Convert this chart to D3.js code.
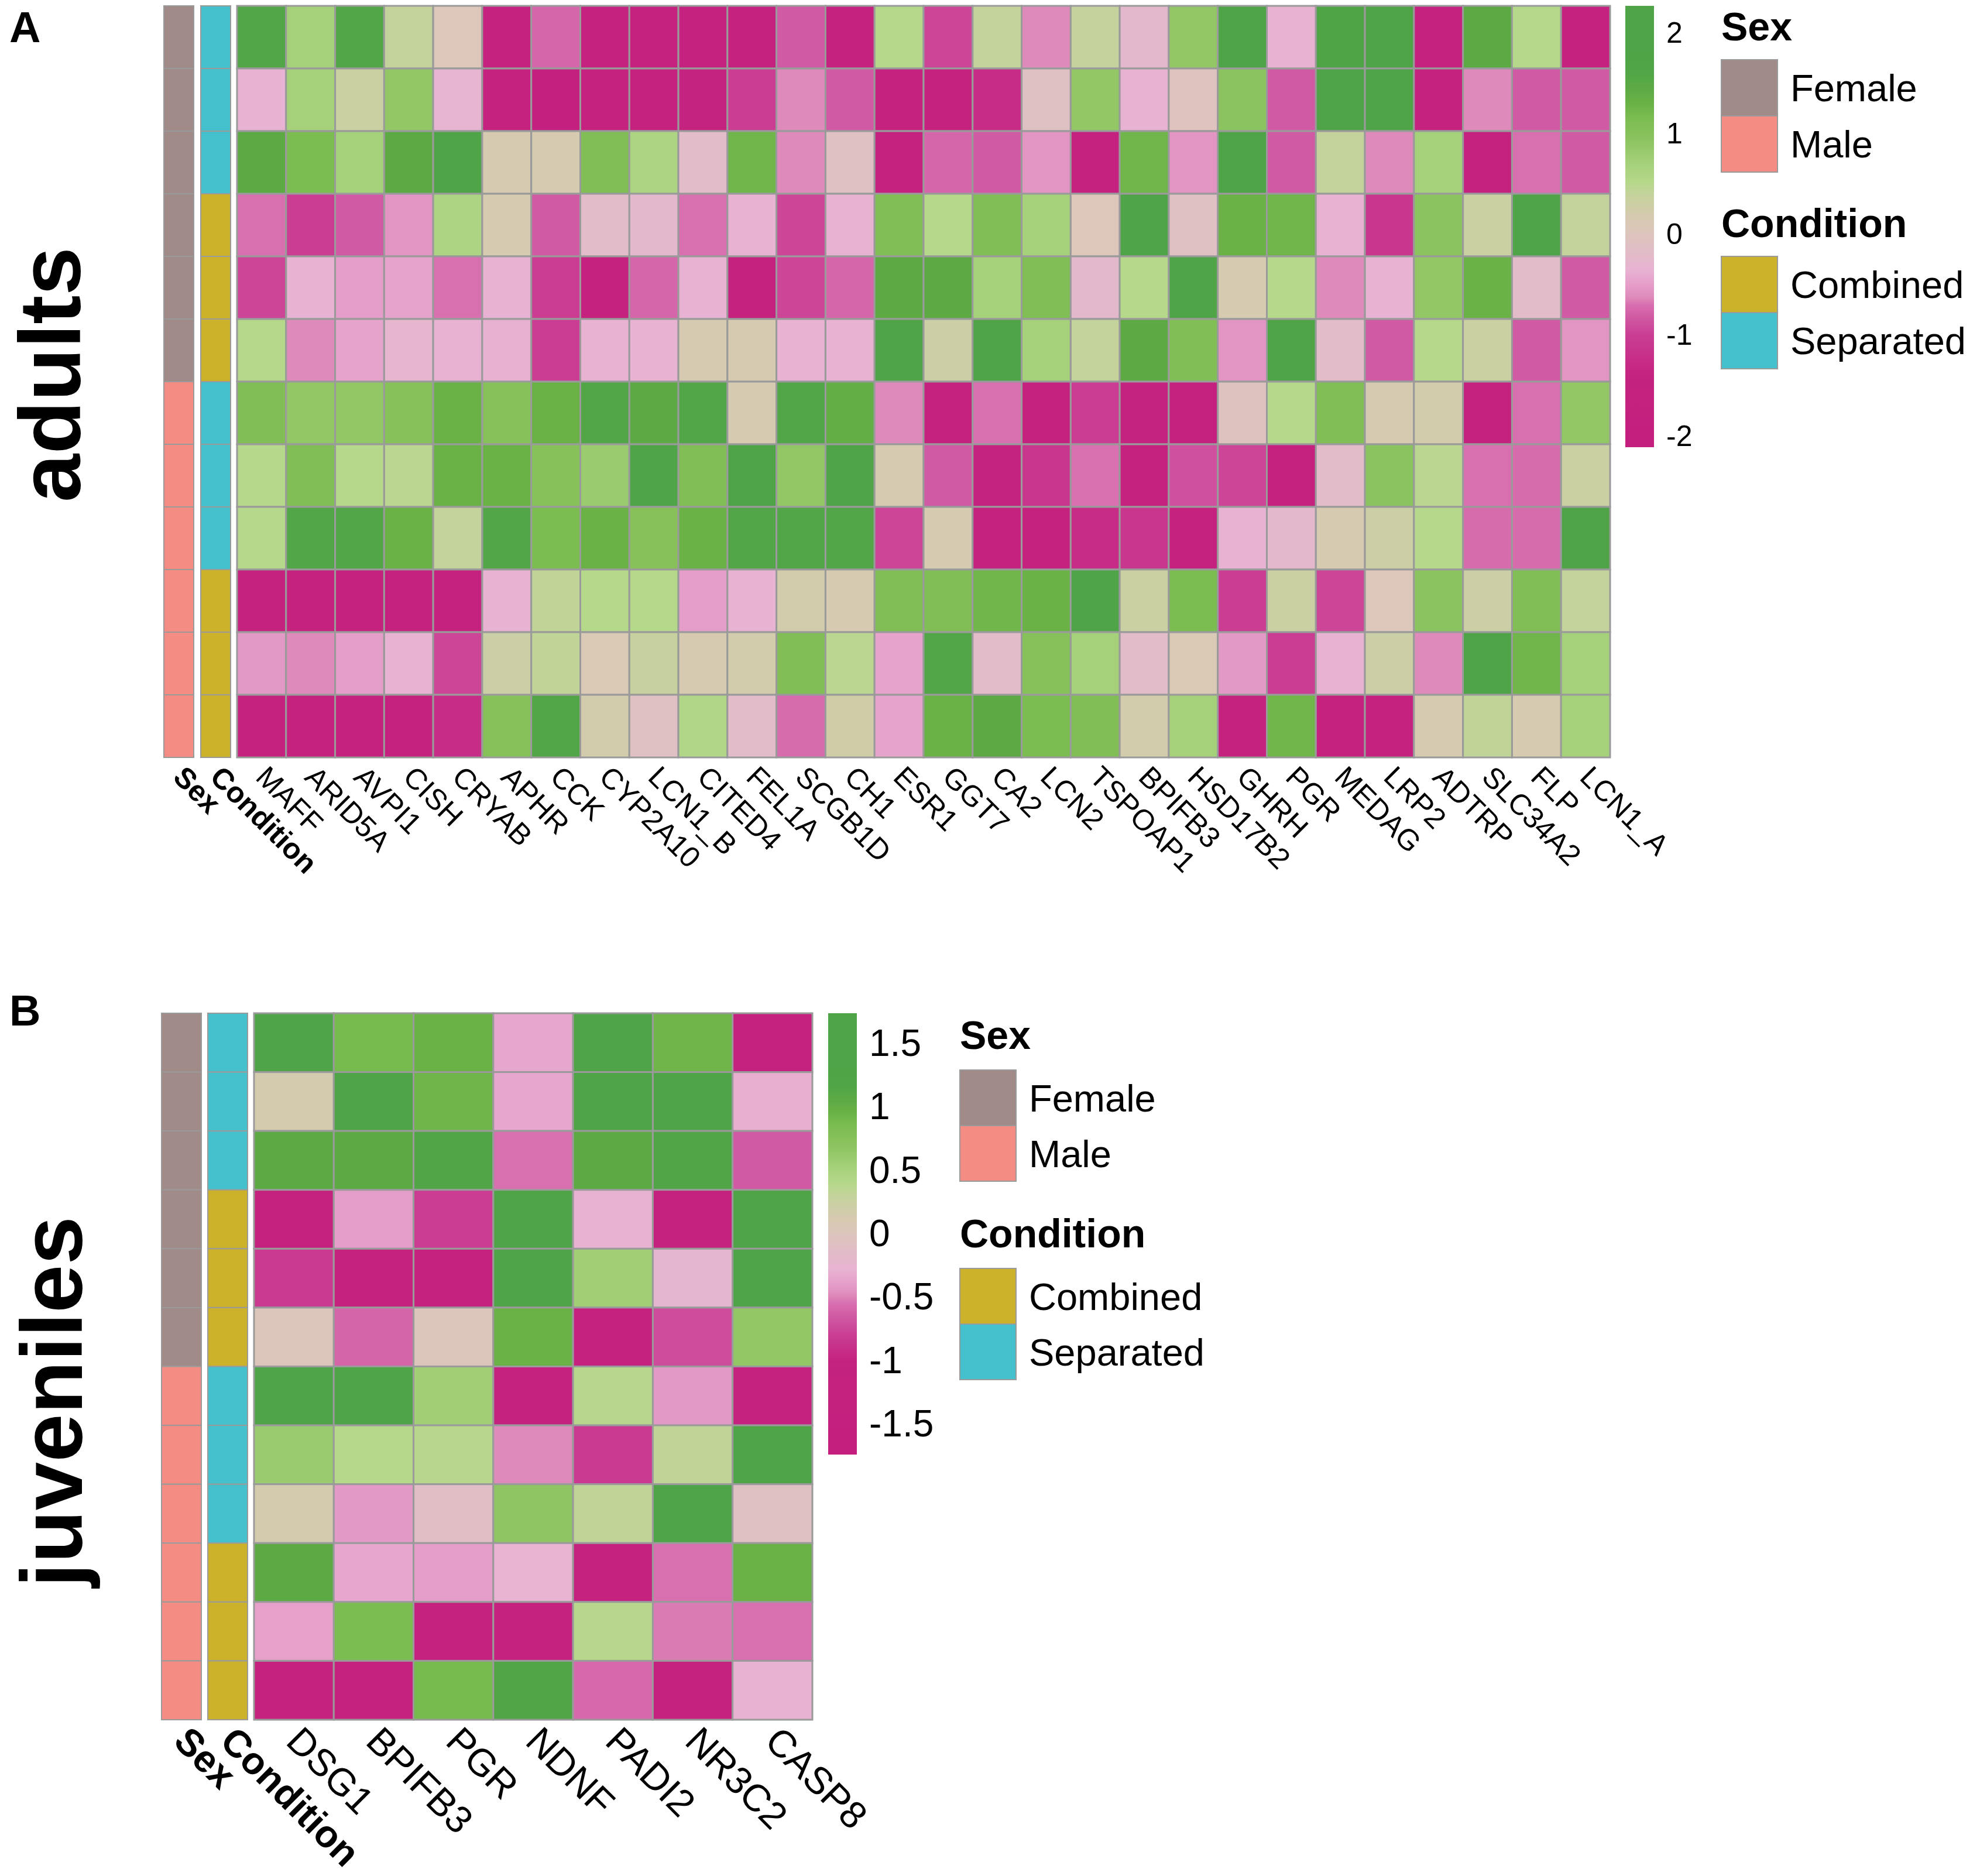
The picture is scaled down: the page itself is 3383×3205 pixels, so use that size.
<!DOCTYPE html>
<html>
<head>
<meta charset="utf-8">
<script src="https://cdn.jsdelivr.net/npm/d3@7"></script>
<style>
  body { margin: 0; background: #fff; }
  text { font-family: "Liberation Sans", Arial, sans-serif; fill: #000; }
</style>
</head>
<body>
<div id="chart"></div>
<script>
// genes (columns)
const genesA = ["MAFF", "ARID5A", "AVPI1", "CISH", "CRYAB", "APHR", "CCK", "CYP2A10", "LCN1_B", "CITED4",
  "FEL1A", "SCGB1D", "CH1", "ESR1", "GGT7", "CA2", "LCN2", "TSPOAP1", "BPIFB3", "HSD17B2",
  "GHRH", "PGR", "MEDAG", "LRP2", "ADTRP", "SLC34A2", "FLP", "LCN1_A"];
const genesB = ["DSG1", "BPIFB3", "PGR", "NDNF", "PADI2", "NR3C2", "CASP8"];

// row annotations (same sample order in both panels)
const sexLevels = ["Female", "Male"];
const conditionLevels = ["Combined", "Separated"];
const sexRows = ["Female", "Female", "Female", "Female", "Female", "Female",
  "Male", "Male", "Male", "Male", "Male", "Male"];
const conditionRows = ["Separated", "Separated", "Separated", "Combined", "Combined", "Combined",
  "Separated", "Separated", "Separated", "Combined", "Combined", "Combined"];

// scaled expression, adults (rows = samples, cols = genesA)
const valuesA = [
  [1.6, 0.7, 1.6, 0.4, 0.05, -1.7, -0.75, -1.7, -1.65, -1.7, -1.75, -0.82, -1.7, 0.52, -0.95, 0.4, -0.62, 0.38, -0.25, 0.88, 1.8, -0.35, 1.75, 1.8, -1.7, 1.45, 0.52, -1.7],
  [-0.35, 0.7, 0.33, 0.88, -0.33, -1.7, -1.8, -1.7, -1.75, -1.4, -1.0, -0.62, -0.82, -1.7, -1.7, -1.25, -0.1, 0.88, -0.35, -0.03, 0.95, -0.82, 1.8, 1.8, -1.7, -0.62, -0.82, -0.82],
  [1.45, 1.15, 0.7, 1.45, 1.8, 0.18, 0.18, 1.08, 0.62, -0.18, 1.25, -0.62, -0.1, -1.7, -0.75, -0.82, -0.56, -1.75, 1.25, -0.56, 1.8, -0.82, 0.4, -0.62, 0.7, -1.7, -0.7, -0.82],
  [-0.7, -1.0, -0.82, -0.56, 0.62, 0.18, -0.82, -0.18, -0.25, -0.7, -0.35, -0.95, -0.35, 1.08, 0.52, 1.08, 0.7, 0.05, 1.8, -0.1, 1.3, 1.25, -0.35, -1.1, 0.95, 0.33, 1.8, 0.4],
  [-0.95, -0.35, -0.5, -0.45, -0.7, -0.35, -1.0, -1.7, -0.75, -0.35, -1.75, -0.95, -0.75, 1.45, 1.45, 0.7, 1.08, -0.25, 0.52, 1.8, 0.18, 0.52, -0.62, -0.35, 0.88, 1.3, -0.18, -0.82],
  [0.52, -0.62, -0.45, -0.3, -0.35, -0.37, -1.0, -0.35, -0.35, 0.18, 0.18, -0.35, -0.35, 1.8, 0.3, 1.8, 0.7, 0.4, 1.45, 1.08, -0.56, 1.8, -0.18, -0.82, 0.52, 0.33, -0.82, -0.56],
  [1.08, 0.88, 0.88, 1.0, 1.3, 1.0, 1.3, 1.6, 1.45, 1.6, 0.18, 1.6, 1.38, -0.62, -1.7, -0.7, -1.7, -1.0, -1.4, -1.7, -0.05, 0.52, 1.08, 0.18, 0.22, -1.7, -0.7, 0.88],
  [0.52, 1.08, 0.52, 0.48, 1.3, 1.3, 1.0, 0.8, 1.8, 1.08, 1.8, 0.88, 1.8, 0.18, -0.82, -1.4, -1.1, -0.7, -1.7, -0.88, -0.95, -1.7, -0.18, 0.95, 0.48, -0.7, -0.72, 0.33],
  [0.52, 1.6, 1.6, 1.3, 0.4, 1.6, 1.15, 1.3, 1.0, 1.3, 1.6, 1.6, 1.6, -0.95, 0.18, -1.7, -1.7, -1.25, -1.1, -1.7, -0.35, -0.25, 0.18, 0.3, 0.52, -0.72, -0.72, 1.8],
  [-1.7, -1.7, -1.75, -1.7, -1.7, -0.35, 0.43, 0.52, 0.52, -0.5, -0.35, 0.22, 0.18, 1.08, 1.08, 1.25, 1.3, 1.8, 0.33, 1.15, -1.0, 0.33, -0.95, 0.05, 0.95, 0.3, 1.08, 0.4],
  [-0.53, -0.62, -0.5, -0.35, -0.95, 0.3, 0.43, 0.12, 0.36, 0.18, 0.22, 1.08, 0.48, -0.45, 1.6, -0.18, 1.0, 0.7, -0.18, 0.12, -0.53, -1.0, -0.35, 0.3, -0.62, 1.8, 1.25, 0.7],
  [-1.7, -1.7, -1.7, -1.7, -1.25, 1.0, 1.6, 0.22, -0.1, 0.56, -0.18, -0.72, 0.26, -0.45, 1.3, 1.45, 1.15, 1.08, 0.22, 0.7, -1.7, 1.25, -1.7, -1.7, 0.18, 0.43, 0.18, 0.7]
];

// scaled expression, juveniles (cols = genesB)
const valuesB = [
  [1.4, 0.88, 0.95, -0.35, 1.4, 0.92, -1.3],
  [0.15, 1.35, 0.92, -0.35, 1.4, 1.35, -0.3],
  [1.05, 1.05, 1.2, -0.55, 1.05, 1.2, -0.65],
  [-1.2, -0.4, -0.8, 1.3, -0.28, -1.2, 1.3],
  [-0.82, -1.2, -1.15, 1.3, 0.55, -0.22, 1.3],
  [0.03, -0.6, 0.03, 0.95, -1.2, -0.72, 0.65],
  [1.3, 1.3, 0.55, -1.2, 0.38, -0.42, -1.2],
  [0.6, 0.4, 0.38, -0.48, -0.82, 0.32, 1.3],
  [0.15, -0.42, -0.12, 0.68, 0.32, 1.3, -0.08],
  [1.05, -0.35, -0.4, -0.27, -1.2, -0.55, 0.95],
  [-0.38, 0.85, -1.2, -1.2, 0.38, -0.52, -0.55],
  [-1.2, -1.2, 0.88, 1.2, -0.58, -1.2, -0.28]
];

// colour bar ticks
const ticksA = [-2, -1, 0, 1, 2];
const ticksB = [-1.5, -1, -0.5, 0, 0.5, 1, 1.5];

// magenta -> pink -> beige -> green ramp, and where each colour sits on each panel's scale
const rampColors = ["#C41E7E", "#C52380", "#CA3D93", "#D05AA3", "#D86FAF", "#DE8BBB", "#E59DC9", "#E8B3D2",
  "#DFC0C3", "#DCC7BA", "#D6CAB0", "#C4D39B", "#B5D88A", "#A6D17B", "#93C766", "#86C15A",
  "#7CBD52", "#6AB246", "#5DAA45", "#52A647", "#4EA446", "#4EA446"];
const stopsA = [-2.11, -1.4, -1.0, -0.82, -0.7, -0.62, -0.5, -0.35, -0.1, 0.05, 0.18, 0.4, 0.52, 0.7,
  0.88, 1.0, 1.15, 1.3, 1.45, 1.6, 1.8, 2.27];
const stopsB = [-1.74, -1.0, -0.8, -0.65, -0.55, -0.48, -0.4, -0.28, -0.08, 0.04, 0.13, 0.3, 0.4, 0.52,
  0.65, 0.75, 0.85, 0.95, 1.05, 1.15, 1.3, 1.74];

const sexColors = ["#A18B88", "#F48C83"];
const conditionColors = ["#CBB22A", "#45C1CD"];

const svg = d3.select("#chart")
  .append("svg")
  .attr("width", 3383)
  .attr("height", 3205);

svg.append("rect").attr("width", 3383).attr("height", 3205).attr("fill", "#fff");

const sexColor = d3.scaleOrdinal().domain(sexLevels).range(sexColors);
const conditionColor = d3.scaleOrdinal().domain(conditionLevels).range(conditionColors);
const gridStroke = "#9a9a9a";

function drawPanel(p) {
  const g = svg.append("g");
  const color = d3.scaleLinear().domain(p.stops).range(rampColors).clamp(true);

  const x = d3.scaleBand().domain(p.genes).range([p.left, p.right]);
  const y = d3.scaleBand().domain(d3.range(sexRows.length)).range([p.top, p.bottom]);

  // heatmap cells
  const cells = p.values.flatMap((row, i) => row.map((v, j) => ({ row: i, gene: p.genes[j], value: v })));
  g.selectAll(".cell")
    .data(cells)
    .join("rect")
    .attr("x", d => x(d.gene))
    .attr("y", d => y(d.row))
    .attr("width", x.bandwidth())
    .attr("height", y.bandwidth())
    .attr("fill", d => color(d.value))
    .attr("stroke", gridStroke)
    .attr("stroke-width", 3);

  // annotation columns
  const annots = [
    { name: "Sex", rows: sexRows, scale: sexColor, x0: p.sexX, w: p.annW },
    { name: "Condition", rows: conditionRows, scale: conditionColor, x0: p.condX, w: p.annW }
  ];
  annots.forEach(a => {
    g.selectAll(null)
      .data(a.rows)
      .join("rect")
      .attr("x", a.x0)
      .attr("y", (d, i) => y(i))
      .attr("width", a.w)
      .attr("height", y.bandwidth())
      .attr("fill", d => a.scale(d))
      .attr("stroke", gridStroke)
      .attr("stroke-width", 2);

    g.append("text")
      .attr("transform", `translate(${a.x0 + a.w / 2},${p.bottom + p.labelGap}) rotate(45)`)
      .attr("dy", "0.35em")
      .attr("font-size", p.labelSize)
      .attr("font-weight", "bold")
      .text(a.name);
  });

  // gene labels
  g.selectAll(".gene")
    .data(p.genes)
    .join("text")
    .attr("transform", d => `translate(${x(d) + x.bandwidth() / 2},${p.bottom + p.labelGap}) rotate(45)`)
    .attr("dy", "0.35em")
    .attr("font-size", p.labelSize)
    .text(d => d);

  // colour bar
  const barScale = d3.scaleLinear().domain([p.stops[0], p.stops[p.stops.length - 1]]).range([p.barBottom, p.barTop]);
  const grad = svg.append("defs").append("linearGradient")
    .attr("id", p.id + "-grad")
    .attr("x1", 0).attr("y1", 1).attr("x2", 0).attr("y2", 0);
  grad.selectAll("stop")
    .data(p.stops)
    .join("stop")
    .attr("offset", d => (d - p.stops[0]) / (p.stops[p.stops.length - 1] - p.stops[0]))
    .attr("stop-color", d => color(d));

  g.append("rect")
    .attr("x", p.barX)
    .attr("y", p.barTop)
    .attr("width", p.barW)
    .attr("height", p.barBottom - p.barTop)
    .attr("fill", `url(#${p.id}-grad)`);

  // plain hyphen minus, like the original
  const axis = g.append("g")
    .attr("transform", `translate(${p.barX + p.barW},0)`)
    .call(d3.axisRight(barScale).tickValues(p.ticks).tickSize(0).tickPadding(21).tickFormat(d => String(d)));
  axis.select(".domain").remove();
  axis.selectAll("text")
    .attr("font-size", p.tickSize)
    .attr("font-family", "Liberation Sans, Arial, sans-serif")
    .attr("fill", "#000");

  // legends
  const legends = [
    { title: "Sex", levels: sexLevels, scale: sexColor, titleY: p.legY0 },
    { title: "Condition", levels: conditionLevels, scale: conditionColor, titleY: p.legY1 }
  ];
  legends.forEach(l => {
    g.append("text")
      .attr("x", p.legX)
      .attr("y", l.titleY)
      .attr("font-size", 68)
      .attr("font-weight", "bold")
      .text(l.title);
    l.levels.forEach((lev, i) => {
      const top = l.titleY + p.swatchOff + i * p.swatchH;
      g.append("rect")
        .attr("x", p.legX)
        .attr("y", top)
        .attr("width", 96)
        .attr("height", p.swatchH)
        .attr("fill", l.scale(lev))
        .attr("stroke", gridStroke)
        .attr("stroke-width", 2);
      g.append("text")
        .attr("x", p.legX + 118)
        .attr("y", top + p.swatchH / 2 + 23)
        .attr("font-size", 65)
        .text(lev);
    });
  });

  // panel letter and group title
  g.append("text")
    .attr("x", 16)
    .attr("y", p.letterY)
    .attr("font-size", 74)
    .attr("font-weight", "bold")
    .text(p.letter);

  g.append("text")
    .attr("transform", `translate(${p.titleX},${p.titleY}) rotate(-90)`)
    .attr("text-anchor", "middle")
    .attr("font-size", 148)
    .attr("font-weight", "bold")
    .text(p.title);
}

drawPanel({
  id: "a", letter: "A", letterY: 72, title: "adults", titleX: 137, titleY: 640,
  genes: genesA, values: valuesA, stops: stopsA, ticks: ticksA,
  left: 405, right: 2751, top: 10, bottom: 1294,
  sexX: 280, condX: 343, annW: 51,
  labelGap: 24, labelSize: 50,
  barX: 2777, barW: 49, barTop: 10, barBottom: 764, tickSize: 50,
  legX: 2941, legY0: 69, legY1: 405, swatchOff: 33, swatchH: 96
});

drawPanel({
  id: "b", letter: "B", letterY: 1752, title: "juveniles", titleX: 140, titleY: 2395,
  genes: genesB, values: valuesB, stops: stopsB, ticks: ticksB,
  left: 434, right: 1388, top: 1731, bottom: 2938,
  sexX: 276, condX: 355, annW: 68,
  labelGap: 24, labelSize: 65,
  barX: 1415, barW: 49, barTop: 1731, barBottom: 2485, tickSize: 64,
  legX: 1640, legY0: 1792, legY1: 2131, swatchOff: 36, swatchH: 95
});
</script>
</body>
</html>
